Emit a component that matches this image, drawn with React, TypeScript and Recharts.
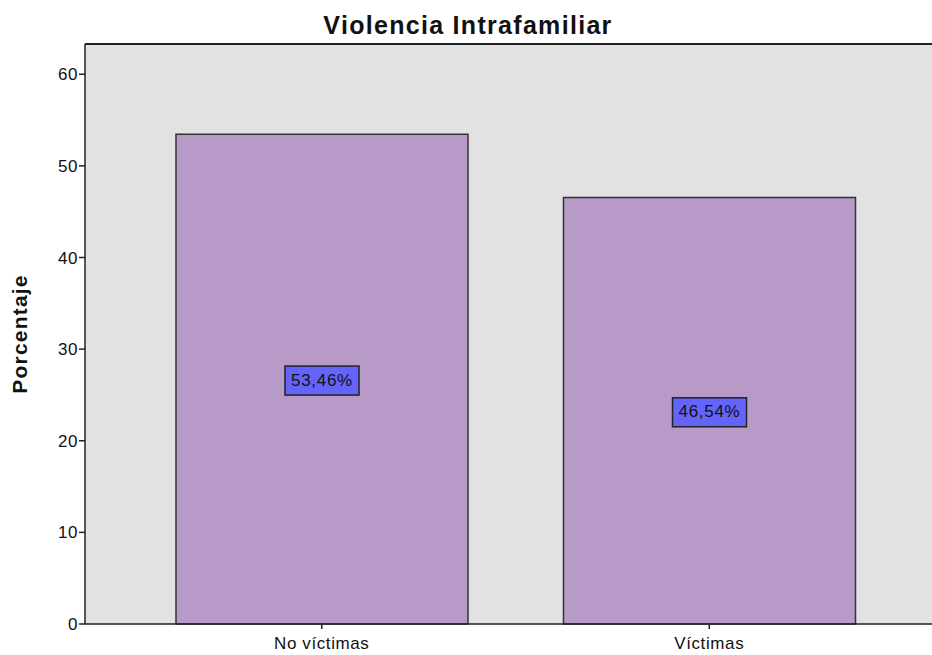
import { Bar, BarChart, CartesianGrid, LabelList, ReferenceLine, XAxis, YAxis } from 'recharts';

const categories = ['No víctimas', 'Víctimas'];
const percentages = [53.46, 46.54];
const yTicks = [0, 10, 20, 30, 40, 50, 60];
const yMax = 63.3;

const data = categories.map((name, i) => ({ name, value: percentages[i] }));

const font = 'Arial, "Liberation Sans", sans-serif';

function ValueBox(props: any) {
  const { x, y, width, height, value } = props;
  const cx = x + width / 2;
  const cy = y + height / 2 + 1;
  const text = `${value.toFixed(2).replace('.', ',')}%`;
  return (
    <g>
      <rect x={cx - 37} y={cy - 14} width={74} height={29} fill="#6464fa" stroke="#222" strokeWidth={1.5} />
      <text
        x={cx}
        y={cy + 1}
        textAnchor="middle"
        dominantBaseline="middle"
        fontSize={17}
        letterSpacing={0.7}
        fontFamily={font}
        fill="#111"
      >
        {text}
      </text>
    </g>
  );
}

export default function App() {
  return (
    <div style={{ position: 'fixed', top: 0, left: 0, width: 932, height: 655, overflow: 'hidden', background: '#fff' }}>
      <div
        style={{
          position: 'absolute',
          top: 11,
          left: 0,
          width: 936,
          textAlign: 'center',
          fontFamily: font,
          fontWeight: 'bold',
          fontSize: 25,
          letterSpacing: 1.3,
          color: '#111',
          zIndex: 1,
        }}
      >
        Violencia Intrafamiliar
      </div>
      <BarChart width={950} height={655} data={data} margin={{ top: 44, right: 4, bottom: 0, left: 0 }} barCategoryGap={48}>
        <CartesianGrid horizontal={false} vertical={false} fill="#e2e2e2" />
        <XAxis
          dataKey="name"
          height={31}
          padding={{ left: 43, right: 43 }}
          stroke="#222"
          strokeWidth={1.5}
          tickSize={5}
          tick={{ fill: '#111', fontSize: 17, letterSpacing: 0.6, fontFamily: font, dy: 6 }}
        />
        <YAxis
          width={85}
          domain={[0, yMax]}
          ticks={yTicks}
          stroke="#222"
          strokeWidth={1.5}
          tickSize={6}
          tickMargin={1}
          tick={{ fill: '#111', fontSize: 17, letterSpacing: 0.5, fontFamily: font }}
          label={{
            value: 'Porcentaje',
            angle: -90,
            position: 'insideLeft',
            offset: 20,
            style: {
              textAnchor: 'middle',
              fontSize: 21,
              letterSpacing: 1.2,
              fontWeight: 'bold',
              fontFamily: font,
              fill: '#111',
            },
          }}
        />
        <ReferenceLine y={yMax} stroke="#222" strokeWidth={2} />
        <Bar dataKey="value" fill="#b89ac8" stroke="#333" strokeWidth={1.5} isAnimationActive={false}>
          <LabelList dataKey="value" content={ValueBox} />
        </Bar>
      </BarChart>
    </div>
  );
}
